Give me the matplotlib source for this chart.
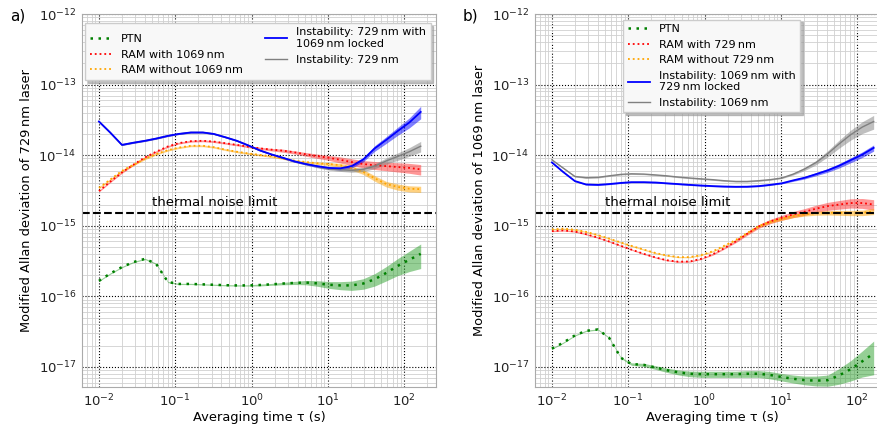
import matplotlib
matplotlib.use('Agg')
import matplotlib.pyplot as plt
from matplotlib.ticker import FixedLocator, LogLocator, NullFormatter

# averaging times (s)
tau = [0.01, 0.014, 0.02, 0.028, 0.04, 0.056, 0.08, 0.11, 0.16, 0.23, 0.32, 0.45, 0.64, 0.9,
       1.28, 1.8, 2.56, 3.6, 5.12, 7.2, 10.24, 14.5, 20.48, 29, 40.96, 58, 81.92, 116, 163.84]

# panel a) 729 nm laser
a_ptn = [1.66e-16, 2.1e-16, 2.6e-16, 3.05e-16, 3.4e-16, 2.9e-16, 1.6e-16, 1.5e-16, 1.5e-16, 1.48e-16,
         1.46e-16, 1.44e-16, 1.43e-16, 1.43e-16, 1.45e-16, 1.48e-16, 1.52e-16, 1.55e-16, 1.57e-16,
         1.53e-16, 1.46e-16, 1.43e-16, 1.43e-16, 1.52e-16, 1.75e-16, 2.15e-16, 2.7e-16, 3.3e-16, 4.0e-16]
a_ptn_err = [0.02, 0.02, 0.02, 0.02, 0.02, 0.02, 0.02, 0.02, 0.02, 0.02, 0.02, 0.02, 0.02, 0.02,
             0.03, 0.03, 0.04, 0.05, 0.07, 0.09, 0.11, 0.13, 0.15, 0.17, 0.2, 0.23, 0.27, 0.32, 0.38]
a_ram_with = [3.1e-15, 4.2e-15, 5.7e-15, 7.3e-15, 9.3e-15, 1.12e-14, 1.33e-14, 1.48e-14, 1.58e-14,
              1.6e-14, 1.56e-14, 1.48e-14, 1.4e-14, 1.32e-14, 1.25e-14, 1.2e-14, 1.16e-14, 1.1e-14,
              1.03e-14, 9.7e-15, 9.2e-15, 8.6e-15, 8.0e-15, 7.5e-15, 7.2e-15, 7.0e-15, 6.8e-15, 6.6e-15, 6.3e-15]
a_ram_with_err = [0.03, 0.03, 0.03, 0.03, 0.03, 0.03, 0.03, 0.03, 0.03, 0.03, 0.03, 0.03, 0.03, 0.03,
                  0.04, 0.04, 0.05, 0.05, 0.06, 0.07, 0.08, 0.1, 0.11, 0.12, 0.13, 0.14, 0.15, 0.16, 0.17]
a_ram_without = [3.45e-15, 4.5e-15, 6.0e-15, 7.3e-15, 8.9e-15, 1.04e-14, 1.18e-14, 1.28e-14, 1.36e-14,
                 1.36e-14, 1.3e-14, 1.2e-14, 1.12e-14, 1.06e-14, 1.01e-14, 9.6e-15, 9.0e-15, 8.4e-15,
                 8.0e-15, 7.7e-15, 7.5e-15, 7.2e-15, 6.6e-15, 5.8e-15, 4.7e-15, 3.9e-15, 3.55e-15, 3.35e-15, 3.3e-15]
a_ram_without_err = [0.03, 0.03, 0.03, 0.03, 0.03, 0.03, 0.03, 0.03, 0.03, 0.03, 0.03, 0.03, 0.03, 0.03,
                     0.03, 0.03, 0.03, 0.03, 0.03, 0.04, 0.05, 0.06, 0.07, 0.08, 0.09, 0.09, 0.1, 0.1, 0.1]
a_inst_locked = [3.0e-14, 2.1e-14, 1.4e-14, 1.5e-14, 1.6e-14, 1.72e-14, 1.88e-14, 2.0e-14, 2.1e-14,
                 2.1e-14, 2.0e-14, 1.8e-14, 1.6e-14, 1.38e-14, 1.17e-14, 1.03e-14, 9.2e-15, 8.2e-15,
                 7.5e-15, 7.0e-15, 6.6e-15, 6.5e-15, 7.0e-15, 8.7e-15, 1.25e-14, 1.65e-14, 2.2e-14, 2.9e-14, 4.1e-14]
a_inst_locked_err = [0.02, 0.02, 0.02, 0.02, 0.02, 0.02, 0.02, 0.02, 0.02, 0.02, 0.02, 0.02, 0.02, 0.02,
                     0.02, 0.02, 0.03, 0.03, 0.03, 0.04, 0.04, 0.05, 0.06, 0.07, 0.09, 0.11, 0.13, 0.16, 0.2]
a_inst = [3.0e-14, 2.1e-14, 1.4e-14, 1.5e-14, 1.6e-14, 1.72e-14, 1.88e-14, 2.0e-14, 2.1e-14,
          2.1e-14, 2.0e-14, 1.8e-14, 1.6e-14, 1.38e-14, 1.17e-14, 1.03e-14, 9.2e-15, 8.2e-15,
          7.5e-15, 6.9e-15, 6.4e-15, 6.2e-15, 6.1e-15, 6.3e-15, 7.0e-15, 8.3e-15, 9.6e-15, 1.12e-14, 1.34e-14]
a_inst_err = [0.02, 0.02, 0.02, 0.02, 0.02, 0.02, 0.02, 0.02, 0.02, 0.02, 0.02, 0.02, 0.02, 0.02,
              0.02, 0.02, 0.03, 0.03, 0.03, 0.04, 0.04, 0.05, 0.06, 0.07, 0.08, 0.1, 0.12, 0.14, 0.17]

# panel b) 1069 nm laser
b_ptn = [1.82e-17, 2.2e-17, 2.8e-17, 3.25e-17, 3.4e-17, 2.6e-17, 1.35e-17, 1.1e-17, 1.07e-17, 9.8e-18,
         9.0e-18, 8.4e-18, 8.0e-18, 7.9e-18, 7.9e-18, 7.9e-18, 7.9e-18, 8.0e-18, 8.0e-18, 7.7e-18,
         7.2e-18, 6.8e-18, 6.5e-18, 6.4e-18, 6.5e-18, 7.6e-18, 9.3e-18, 1.2e-17, 1.55e-17]
b_ptn_err = [0.02, 0.02, 0.02, 0.02, 0.02, 0.02, 0.02, 0.04, 0.05, 0.06, 0.07, 0.08, 0.09, 0.1,
             0.1, 0.1, 0.1, 0.11, 0.11, 0.12, 0.12, 0.13, 0.14, 0.16, 0.18, 0.25, 0.32, 0.4, 0.5]
b_ram_with = [8.4e-16, 8.6e-16, 8.3e-16, 7.6e-16, 6.8e-16, 6.0e-16, 5.2e-16, 4.6e-16, 4.0e-16,
              3.55e-16, 3.25e-16, 3.1e-16, 3.12e-16, 3.4e-16, 3.95e-16, 4.8e-16, 6.0e-16, 7.7e-16,
              9.8e-16, 1.15e-15, 1.3e-15, 1.45e-15, 1.58e-15, 1.75e-15, 1.9e-15, 2.0e-15, 2.1e-15, 2.1e-15, 2.0e-15]
b_ram_with_err = [0.02, 0.02, 0.02, 0.02, 0.02, 0.02, 0.02, 0.02, 0.02, 0.02, 0.02, 0.02, 0.02, 0.02,
                  0.03, 0.03, 0.04, 0.05, 0.06, 0.07, 0.08, 0.1, 0.11, 0.12, 0.13, 0.14, 0.15, 0.16, 0.17]
b_ram_without = [8.9e-16, 9.1e-16, 8.8e-16, 8.2e-16, 7.4e-16, 6.6e-16, 5.8e-16, 5.2e-16, 4.6e-16,
                 4.1e-16, 3.8e-16, 3.6e-16, 3.6e-16, 3.85e-16, 4.35e-16, 5.2e-16, 6.3e-16, 7.9e-16,
                 9.9e-16, 1.14e-15, 1.26e-15, 1.38e-15, 1.46e-15, 1.51e-15, 1.53e-15, 1.53e-15, 1.52e-15, 1.53e-15, 1.6e-15]
b_ram_without_err = [0.02, 0.02, 0.02, 0.02, 0.02, 0.02, 0.02, 0.02, 0.02, 0.02, 0.02, 0.02, 0.02, 0.02,
                     0.02, 0.02, 0.02, 0.03, 0.04, 0.045, 0.05, 0.055, 0.06, 0.065, 0.07, 0.08, 0.085, 0.09, 0.1]
b_inst_locked = [7.9e-15, 5.8e-15, 4.3e-15, 3.85e-15, 3.8e-15, 3.9e-15, 4.05e-15, 4.15e-15, 4.15e-15,
                 4.1e-15, 4.0e-15, 3.9e-15, 3.8e-15, 3.72e-15, 3.65e-15, 3.6e-15, 3.57e-15, 3.58e-15,
                 3.65e-15, 3.8e-15, 4.0e-15, 4.4e-15, 4.8e-15, 5.4e-15, 6.1e-15, 7.1e-15, 8.5e-15, 1.02e-14, 1.27e-14]
b_inst_locked_err = [0.02, 0.02, 0.02, 0.02, 0.02, 0.02, 0.02, 0.02, 0.02, 0.02, 0.02, 0.02, 0.02, 0.02,
                     0.02, 0.02, 0.02, 0.02, 0.02, 0.02, 0.02, 0.03, 0.04, 0.05, 0.06, 0.07, 0.08, 0.09, 0.1]
b_inst = [8.6e-15, 6.6e-15, 5.0e-15, 4.8e-15, 4.85e-15, 5.1e-15, 5.35e-15, 5.45e-15, 5.4e-15,
          5.25e-15, 5.1e-15, 4.9e-15, 4.75e-15, 4.62e-15, 4.5e-15, 4.35e-15, 4.25e-15, 4.25e-15,
          4.35e-15, 4.5e-15, 4.75e-15, 5.4e-15, 6.4e-15, 7.9e-15, 1.05e-14, 1.45e-14, 1.95e-14, 2.5e-14, 3.0e-14]
b_inst_err = [0.02, 0.02, 0.02, 0.02, 0.02, 0.02, 0.02, 0.02, 0.02, 0.02, 0.02, 0.02, 0.02, 0.02,
              0.02, 0.02, 0.02, 0.02, 0.02, 0.02, 0.02, 0.03, 0.05, 0.07, 0.1, 0.13, 0.16, 0.19, 0.22]

thermal_limit = 1.5e-15

x_ticks = [1e-2, 1e-1, 1e0, 1e1, 1e2]
x_ticklabels = ['$10^{-2}$', '$10^{-1}$', '$10^{0}$', '$10^{1}$', '$10^{2}$']
y_ticks = [1e-17, 1e-16, 1e-15, 1e-14, 1e-13, 1e-12]
y_ticklabels = ['$10^{-17}$', '$10^{-16}$', '$10^{-15}$', '$10^{-14}$', '$10^{-13}$', '$10^{-12}$']

a_labels = ['PTN', 'RAM with 1069\u2009nm', 'RAM without 1069\u2009nm',
            'Instability: 729\u2009nm with\n1069\u2009nm locked', 'Instability: 729\u2009nm']
b_labels = ['PTN', 'RAM with 729\u2009nm', 'RAM without 729\u2009nm',
            'Instability: 1069\u2009nm with\n729\u2009nm locked', 'Instability: 1069\u2009nm']

plt.rcParams['font.family'] = 'DejaVu Sans'
plt.rcParams['mathtext.default'] = 'regular'
plt.rcParams['font.size'] = 9.4

fig = plt.figure(figsize=(8.78, 4.25), dpi=100)
ax_a = fig.add_axes([0.0934, 0.0894, 0.4032, 0.8776])
ax_b = fig.add_axes([0.6093, 0.0894, 0.4032, 0.8776])


def band(ax, y, err, color):
    lo = [v * (1 - e) for v, e in zip(y, err)]
    hi = [v * (1 + e) for v, e in zip(y, err)]
    ax.fill_between(tau, lo, hi, color=color, alpha=0.5, lw=0)


def draw_panel(ax, ptn, ptn_err, rw, rw_err, rwo, rwo_err, il, il_err, ins, ins_err, labels):
    band(ax, ptn, ptn_err, '#2ca02c')
    band(ax, rw, rw_err, '#ff3030')
    band(ax, rwo, rwo_err, '#ffa500')
    band(ax, ins, ins_err, 'gray')
    band(ax, il, il_err, 'blue')
    h1, = ax.plot(tau, ptn, color='green', lw=1.8, ls=(0, (1, 2.2)), label=labels[0])
    h2, = ax.plot(tau, rw, color='red', lw=1.3, ls=':', label=labels[1])
    h3, = ax.plot(tau, rwo, color='orange', lw=1.3, ls=':', label=labels[2])
    h5, = ax.plot(tau, ins, color='gray', lw=1.0, label=labels[4])
    h4, = ax.plot(tau, il, color='blue', lw=1.3, label=labels[3])
    ax.axhline(thermal_limit, color='black', ls='--', lw=1.5)
    ax.text(0.05, 1.75e-15, 'thermal noise limit', fontsize=9.5, ha='left', va='bottom')

    ax.set_xscale('log')
    ax.set_yscale('log')
    ax.set_xlim(0.006, 260)
    ax.set_ylim(5.2e-18, 1e-12)
    ax.set_xticks(x_ticks)
    ax.set_xticklabels(x_ticklabels)
    ax.set_yticks(y_ticks)
    ax.set_yticklabels(y_ticklabels)
    ax.xaxis.set_minor_locator(LogLocator(base=10, subs=range(2, 10), numticks=20))
    ax.yaxis.set_minor_locator(LogLocator(base=10, subs=range(2, 10), numticks=20))
    ax.xaxis.set_minor_formatter(NullFormatter())
    ax.yaxis.set_minor_formatter(NullFormatter())
    ax.grid(True, which='minor', color='#d0d0d0', lw=0.6, ls='-')
    ax.grid(True, which='major', color='black', lw=0.8, ls=':')
    ax.set_axisbelow(True)
    ax.tick_params(which='both', length=0, labelsize=9.5, colors='#222222', pad=4)
    for s in ax.spines.values():
        s.set_color('#aaaaaa')
    ax.set_xlabel('Averaging time \u03c4 (s)', labelpad=1)
    return [h1, h2, h3, h4, h5]


shadow_style = {'color': '#999999', 'alpha': 0.6}

handles = draw_panel(ax_a, a_ptn, a_ptn_err, a_ram_with, a_ram_with_err, a_ram_without, a_ram_without_err,
                     a_inst_locked, a_inst_locked_err, a_inst, a_inst_err, a_labels)
ax_a.set_ylabel('Modified Allan deviation of 729\u2009nm laser')
ax_a.legend(handles=handles, ncol=2, loc='upper left', bbox_to_anchor=(0.0, 0.985), fontsize=8,
            shadow=shadow_style, fancybox=False, framealpha=1, facecolor='#f8f8f8', edgecolor='#cccccc',
            columnspacing=2.0, borderaxespad=0.3)

handles = draw_panel(ax_b, b_ptn, b_ptn_err, b_ram_with, b_ram_with_err, b_ram_without, b_ram_without_err,
                     b_inst_locked, b_inst_locked_err, b_inst, b_inst_err, b_labels)
ax_b.set_ylabel('Modified Allan deviation of 1069\u2009nm laser')
ax_b.legend(handles=handles, ncol=1, loc='upper left', bbox_to_anchor=(0.25, 0.985), fontsize=8,
            shadow=shadow_style, fancybox=False, framealpha=1, facecolor='#f8f8f8', edgecolor='#cccccc',
            borderaxespad=0.0)

fig.text(0.012, 0.963, 'a)', fontsize=11, va='center')
fig.text(0.527, 0.963, 'b)', fontsize=11, va='center')

fig.savefig('out.png', dpi=100)
